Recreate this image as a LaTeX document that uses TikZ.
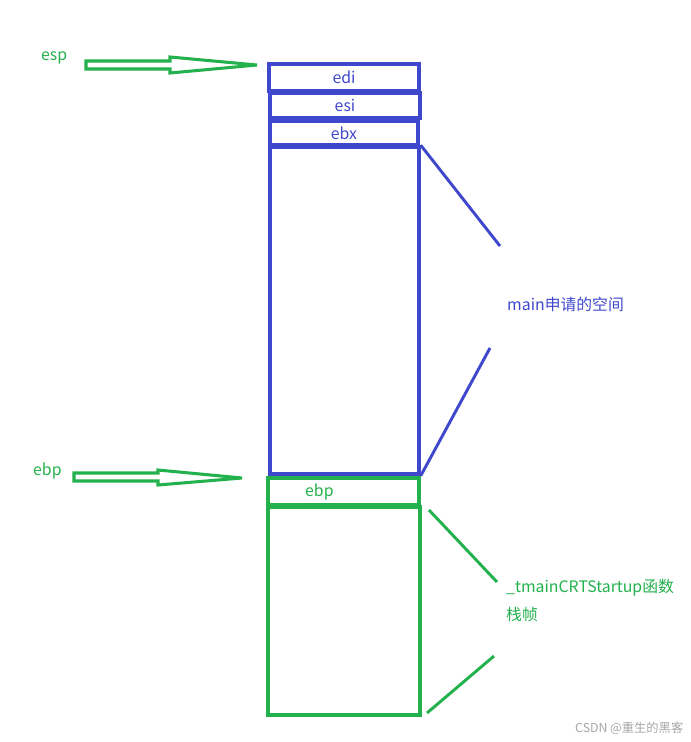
\documentclass[tikz,border=0pt]{standalone}
\usepackage{fontspec}
\setmainfont{Noto Sans CJK SC}
\usepackage{tikz}
\usetikzlibrary{positioning}
\definecolor{stackblue}{RGB}{63,72,204}
\definecolor{stackgreen}{RGB}{34,177,76}

\begin{document}
\begin{tikzpicture}[
    x=0.03cm, y=-0.03cm,
    box/.style={draw, rectangle, inner sep=0pt, line width=3pt},
    bluebox/.style={box, stackblue, text=stackblue},
    greenbox/.style={box, stackgreen, text=stackgreen},
    txt/.style={inner sep=0pt, font=\fontsize{13.5}{16}\selectfont, anchor=west},
    openarrow/.style={draw=stackgreen, line width=2.6pt, line join=miter}
]
    \useasboundingbox (0,0) rectangle (691,742);

    % Stack slots of main
    \node[bluebox, minimum width=150*0.03cm, minimum height=27*0.03cm] (edi) at (344,77.5) {\fontsize{13.5}{16}\selectfont edi};
    \node[bluebox, minimum width=150*0.03cm, minimum height=25*0.03cm] (esi) at (345,105.5) {\fontsize{13.5}{16}\selectfont esi};
    \node[bluebox, minimum width=148*0.03cm, minimum height=24*0.03cm] (ebx) at (344,133) {\fontsize{13.5}{16}\selectfont ebx};
    \node[bluebox, minimum width=149*0.03cm, minimum height=327*0.03cm] (mainspace) at (344.5,310.5) {};

    % Frame of _tmainCRTStartup
    \node[greenbox, minimum width=151*0.03cm, minimum height=27*0.03cm] (oldebp) at (343.5,491.5) {};
    \node[txt, text=stackgreen] (oldebptext) at (305,492) {ebp};
    \node[greenbox, minimum width=152*0.03cm, minimum height=208*0.03cm] (crtframe) at (344,611) {};

    % Pointer labels
    \node[txt, text=stackgreen] (esp) at (41,58) {esp};
    \node[txt, text=stackgreen] (ebp) at (33,471) {ebp};

    % Open arrows
    \coordinate (espTail) at (86,65);
    \coordinate (espTip) at (257,65);
    \draw[openarrow] (espTail) ++(0,-4) -- (170,61) -- (170,57) -- (espTip)
        -- (170,73) -- (170,69) -- (86,69) -- cycle;
    \coordinate (ebpTail) at (74,477);
    \coordinate (ebpTip) at (242,478);
    \draw[openarrow] (ebpTail) ++(0,-4) -- (158,473) -- (158,470) -- (ebpTip)
        -- (158,485) -- (158,481) -- (74,481) -- cycle;

    % Brace lines and captions
    \coordinate (blueTop) at (500,246);
    \coordinate (blueBot) at (490,348);
    \draw[stackblue, line width=2.5pt] (mainspace.north east) -- (blueTop);
    \draw[stackblue, line width=2.5pt] (mainspace.south east) -- (blueBot);
    \node[txt, text=stackblue] (mainlabel) at (507,304) {main申请的空间};

    \coordinate (greenTopA) at (429,510);
    \coordinate (greenTopB) at (497,582);
    \coordinate (greenBotA) at (427,713);
    \coordinate (greenBotB) at (494,656);
    \draw[stackgreen, line width=2.5pt] (greenTopA) -- (greenTopB);
    \draw[stackgreen, line width=2.5pt] (greenBotA) -- (greenBotB);
    \node[txt, text=stackgreen] (crtlabel) at (506,588) {\_tmainCRTStartup函数};
    \node[txt, text=stackgreen, below=9pt of crtlabel.south west, anchor=north west] (crtlabel2) {栈帧};

    % Watermark
    \node[txt, text=gray!70, font=\fontsize{10.5}{12}\selectfont] (mark) at (575,728) {CSDN @重生的黑客};
\end{tikzpicture}
\end{document}
